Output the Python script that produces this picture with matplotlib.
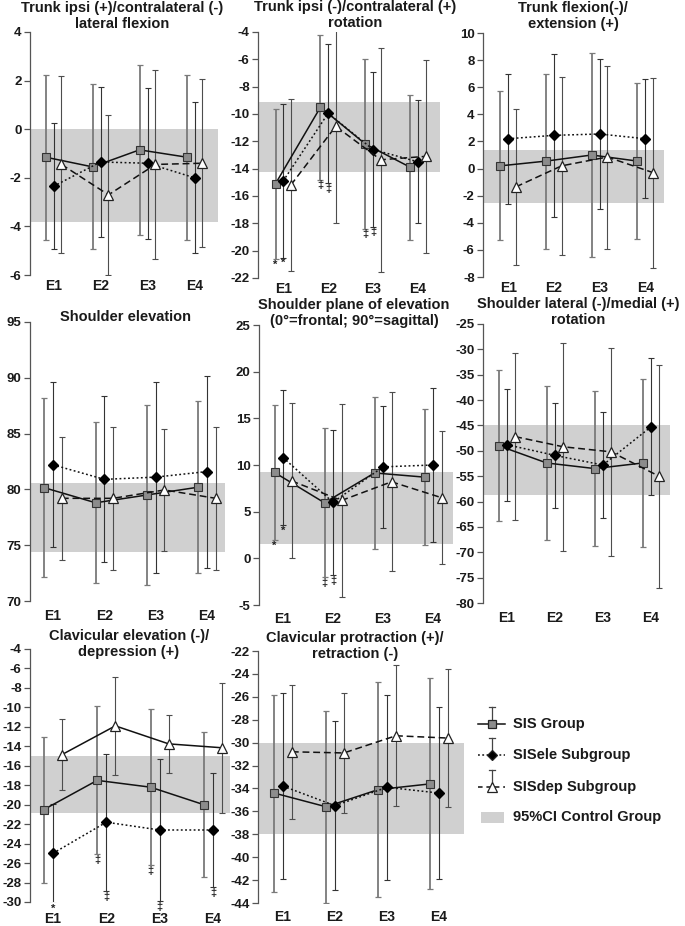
import numpy as np
import matplotlib.pyplot as plt
import matplotlib.patches as mpatches

plt.rcParams['font.family'] = ['Liberation Sans', 'DejaVu Sans']
plt.rcParams['font.weight'] = 'bold'

W, H = 685, 926

sessions = ['E1', 'E2', 'E3', 'E4']

titles = [
    'Trunk ipsi (+)/contralateral (-)\nlateral flexion',
    'Trunk ipsi (-)/contralateral (+)\nrotation',
    'Trunk flexion(-)/\nextension (+)',
    'Shoulder elevation',
    'Shoulder plane of elevation\n(0°=frontal; 90°=sagittal)',
    'Shoulder lateral (-)/medial (+)\nrotation',
    'Clavicular elevation (-)/\ndepression (+)',
    'Clavicular protraction (+)/\nretraction (-)',
]

# SIS group
sis_mean = [
    [-1.15, -1.55, -0.85, -1.15],
    [-15.1, -9.5, -12.2, -13.9],
    [0.2, 0.55, 1.0, 0.55],
    [80.15, 78.8, 79.5, 80.2],
    [9.2, 5.95, 9.15, 8.7],
    [-49.0, -52.4, -53.5, -52.4],
    [-20.5, -17.5, -18.2, -20.0],
    [-34.4, -35.6, -34.1, -33.6],
]
sis_sd = [
    [3.4, 3.4, 3.5, 3.4],
    [5.5, 5.3, 6.2, 5.3],
    [5.5, 6.45, 7.55, 5.75],
    [8.0, 7.2, 8.05, 7.7],
    [7.2, 8.0, 8.1, 7.3],
    [14.9, 15.1, 15.2, 16.5],
    [7.5, 7.6, 8.0, 7.45],
    [8.6, 8.4, 9.4, 9.2],
]
# SISele subgroup
ele_mean = [
    [-2.35, -1.35, -1.4, -2.0],
    [-14.9, -9.95, -12.6, -13.5],
    [2.2, 2.45, 2.55, 2.2],
    [82.2, 80.9, 81.1, 81.6],
    [10.8, 6.0, 9.8, 10.0],
    [-48.8, -50.9, -52.8, -45.3],
    [-25.0, -21.8, -22.6, -22.6],
    [-33.8, -35.5, -33.9, -34.4],
]
ele_sd = [
    [2.6, 3.1, 3.1, 3.1],
    [5.6, 5.1, 5.65, 4.5],
    [4.8, 6.0, 5.55, 4.4],
    [7.4, 7.45, 8.55, 8.6],
    [7.25, 7.8, 6.5, 8.3],
    [11.0, 10.4, 10.5, 13.5],
    [5.1, 7.05, 7.3, 5.9],
    [8.1, 7.4, 8.1, 7.5],
]
# SISdep subgroup
dep_mean = [
    [-1.45, -2.7, -1.45, -1.4],
    [-15.2, -10.9, -13.35, -13.1],
    [-1.35, 0.2, 0.85, -0.3],
    [79.2, 79.2, 79.95, 79.2],
    [8.3, 6.2, 8.2, 6.5],
    [-47.2, -49.2, -50.2, -55.0],
    [-14.85, -11.9, -13.75, -14.15],
    [-30.8, -30.9, -29.4, -29.6],
]
dep_sd = [
    [3.65, 3.3, 3.9, 3.45],
    [6.3, 7.1, 8.2, 7.05],
    [5.75, 6.55, 6.75, 7.0],
    [5.5, 6.4, 5.5, 6.4],
    [8.3, 10.3, 9.6, 7.1],
    [16.5, 20.5, 20.5, 22.0],
    [3.65, 5.05, 2.95, 6.7],
    [5.85, 5.25, 6.15, 6.0],
]
# 95% CI of the control group
ci_low = [-3.8, -14.25, -2.55, 74.4, 1.5, -58.7, -20.9, -38.0]
ci_high = [0.0, -9.1, 1.4, 80.6, 9.3, -45.0, -15.0, -30.0]

y_min = [-6, -22, -8, 70, -5, -80, -30, -44]
y_max = [4, -4, 10, 95, 25, -25, -4, -22]
y_step = [2, 2, 2, 5, 5, 5, 2, 2]
dep_style = ['dash', 'dash', 'dash', 'dash', 'dash', 'dash', 'solid', 'dash']

# significance marks: (panel, session, series, symbol)
marks = [
    (1, 0, 'sis', '*'), (1, 0, 'ele', '*'), (1, 1, 'sis', '‡'), (1, 1, 'ele', '‡'),
    (1, 2, 'sis', '‡'), (1, 2, 'ele', '‡'),
    (4, 0, 'sis', '*'), (4, 0, 'ele', '*'), (4, 1, 'sis', '‡'), (4, 1, 'ele', '‡'),
    (6, 0, 'ele', '*'), (6, 1, 'sis', '‡'), (6, 1, 'ele', '‡'), (6, 2, 'sis', '‡'),
    (6, 2, 'ele', '‡'), (6, 3, 'ele', '‡'),
]

# layout in pixels: left, top, right, bottom
boxes = [
    (30, 32, 218, 275), (258, 32, 440, 278), (483, 33, 664, 277),
    (30, 322, 225, 601), (259, 325, 453, 605), (483, 324, 670, 603),
    (30, 649, 230, 902), (258, 651, 464, 903),
]
xlims = [(0.5, 4.5), (0.44, 4.49), (0.45, 4.41), (0.55, 4.35),
         (0.52, 4.4), (0.5, 4.4), (0.57, 4.32), (0.52, 4.48)]
title_pos = [(122, 16), (355, 15), (573, 16), (125, 317), (354, 313),
             (578, 312), (129, 644), (355, 646)]
xlabel_pad = [3, 3, 3, 6, 5, 6, 7.5, 5]

band_color = '#d0d0d0'
off = 0.17
x = np.arange(1, 5)

fig = plt.figure(figsize=(W / 100, H / 100), dpi=100)

series = {
    'sis': dict(mean=sis_mean, sd=sis_sd, dx=-off),
    'ele': dict(mean=ele_mean, sd=ele_sd, dx=0.0),
    'dep': dict(mean=dep_mean, sd=dep_sd, dx=off),
}

for i in range(8):
    l, t, r, b = boxes[i]
    ax = fig.add_axes([l / W, 1 - b / H, (r - l) / W, (b - t) / H])
    ax.axhspan(ci_low[i], ci_high[i], color=band_color, lw=0, zorder=0)

    # error bars
    ax.errorbar(x - off, sis_mean[i], yerr=sis_sd[i], fmt='none', ecolor='#7a7a7a',
                elinewidth=1.3, capsize=2.5, capthick=0.9, zorder=2)
    ax.errorbar(x, ele_mean[i], yerr=ele_sd[i], fmt='none', ecolor='#333333',
                elinewidth=0.8, capsize=2.5, capthick=0.8, zorder=2)
    ax.errorbar(x + off, dep_mean[i], yerr=dep_sd[i], fmt='none', ecolor='#4d4d4d',
                elinewidth=0.8, capsize=2.5, capthick=0.8, zorder=2)

    # lines + markers
    ax.plot(x - off, sis_mean[i], color='#111111', lw=1.1, ls='-', marker='s',
            ms=5.8, mfc='#8c8c8c', mec='#333333', mew=0.8, zorder=4)
    ax.plot(x, ele_mean[i], color='#111111', lw=1.1, ls=(0, (1.2, 1.6)), marker='D',
            ms=4.8, mfc='black', mec='black', zorder=4)
    ls_dep = '-' if dep_style[i] == 'solid' else (0, (4.5, 2.5))
    ax.plot(x + off, dep_mean[i], color='#111111', lw=1.1, ls=ls_dep, marker='^',
            ms=7, mfc='white', mec='#222222', mew=0.9, zorder=5)

    ax.set_xlim(*xlims[i])
    ax.set_ylim(y_min[i], y_max[i])
    ticks = np.arange(y_min[i], y_max[i] + 0.01, y_step[i])
    ax.set_yticks(ticks)
    ax.set_yticklabels([f'{v:g}' for v in ticks])
    ax.set_xticks(x)
    ax.set_xticklabels(sessions)
    ax.tick_params(axis='x', length=0, pad=xlabel_pad[i], labelsize=10, colors='#1a1a1a')
    ax.tick_params(axis='y', direction='out', length=4, width=0.9, colors='#555555',
                   labelsize=9.5, labelcolor='#1a1a1a', pad=2)
    for s in ['top', 'right', 'bottom']:
        ax.spines[s].set_visible(False)
    ax.spines['left'].set_color('#555555')
    ax.spines['left'].set_linewidth(0.9)
    ax.patch.set_visible(False)

    for p, k, name, sym in marks:
        if p != i:
            continue
        d = series[name]
        yb = d['mean'][i][k] - d['sd'][i][k]
        ax.annotate(sym, xy=(x[k] + d['dx'], yb), xytext=(0, -0.5),
                    textcoords='offset points', ha='center', va='top',
                    fontsize=8, color='#222222', annotation_clip=False)

    tx, ty = title_pos[i]
    fig.text(tx / W, 1 - ty / H, titles[i], ha='center', va='center',
             fontsize=10.5, fontweight='bold', color='#1a1a1a', linespacing=1.15)

# legend drawn in pixel space
lg = fig.add_axes([0, 0, 1, 1])
lg.set_xlim(0, W)
lg.set_ylim(H, 0)
lg.axis('off')
legend_rows = [
    ('SIS Group', 724, '-', 's', '#8c8c8c', 5.8),
    ('SISele Subgroup', 755, (0, (1.2, 1.6)), 'D', 'black', 4.8),
    ('SISdep Subgroup', 787, (0, (3, 2.5)), '^', 'white', 7),
]
for label, yy, ls, mk, fc, ms in legend_rows:
    lg.plot([478, 505], [yy, yy], color='#111111', lw=1.1, ls=ls)
    lg.plot([492, 492], [yy, yy - 17], color='#444444', lw=0.9)
    lg.plot([489, 495], [yy - 17, yy - 17], color='#444444', lw=0.9)
    lg.plot([492], [yy], marker=mk, ms=ms, mfc=fc, mec='#222222', mew=0.9, ls='none')
    lg.text(513, yy, label, va='center', ha='left', fontsize=10.5,
            fontweight='bold', color='#1a1a1a')
lg.add_patch(mpatches.Rectangle((481, 812), 23, 11, color=band_color, lw=0))
lg.text(513, 817, '95%CI Control Group', va='center', ha='left', fontsize=10.5,
        fontweight='bold', color='#1a1a1a')

fig.savefig('out.png', dpi=100)
